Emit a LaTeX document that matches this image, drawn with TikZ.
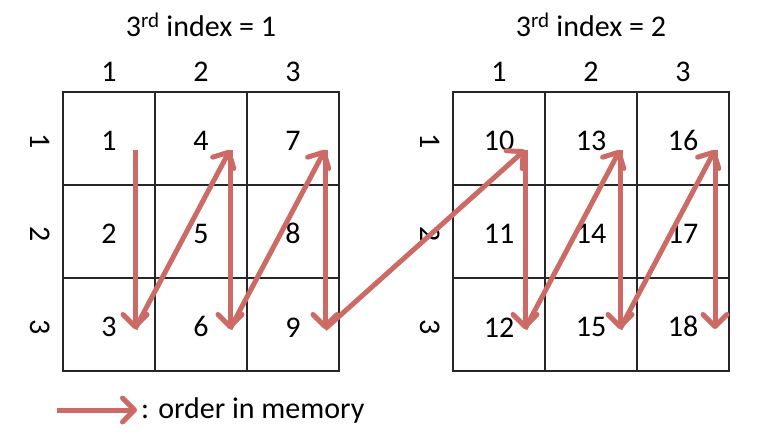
\documentclass[tikz,border=0pt]{standalone}
\usepackage{fontspec}
\setmainfont{Carlito}
\usetikzlibrary{arrows.meta}
\usetikzlibrary{calc}
\usetikzlibrary{positioning}
\definecolor{memred}{RGB}{204,106,102}
\tikzset{
  cell/.style={draw=black!85, line width=1.2pt, minimum width=92pt, minimum height=93pt, inner sep=0pt, text height=25pt, font=\fontsize{30}{36}\selectfont},
  idx/.style={inner sep=0pt, font=\fontsize{30}{36}\selectfont},
  heading/.style={inner sep=0pt, font=\fontsize{30}{36}\selectfont},
  memarrow/.style={draw=memred, line width=5pt, -{Straight Barb[length=12pt,width=24pt,round]}}
}
\begin{document}
\begin{tikzpicture}[x=1pt, y=-1pt]
\useasboundingbox (0,0) rectangle (760,438);

\foreach \g in {0,1}
  \foreach \j in {0,1,2}
    \foreach \i in {0,1,2} {
      \pgfmathtruncatemacro{\n}{9*\g+3*\j+\i+1}
      \node[cell] (c\n) at ({109+390*\g+92*\j},{138.5+93*\i}) {\n};
    }

\foreach \g in {0,1}
  \foreach \j in {0,1,2} {
    \pgfmathtruncatemacro{\n}{9*\g+3*\j+1}
    \pgfmathtruncatemacro{\m}{\j+1}
    \node[idx] (col\g\m) at ($(c\n.north)+(0,-20)$) {\m};
  }

\foreach \g in {0,1}
  \foreach \i in {0,1,2} {
    \pgfmathtruncatemacro{\n}{9*\g+\i+1}
    \pgfmathtruncatemacro{\m}{\i+1}
    \node[idx, rotate=-90] (row\g\m) at ($(c\n.west)+(-22,3)$) {\m};
  }

\node[heading] (title0) at ($(c4.north)+(0,-67)$) {3\textsuperscript{rd} index = 1};
\node[heading] (title1) at ($(c13.north)+(0,-67)$) {3\textsuperscript{rd} index = 2};

\foreach \k in {1,...,6} {
  \pgfmathtruncatemacro{\a}{3*\k-2}
  \pgfmathtruncatemacro{\b}{3*\k}
  \pgfmathsetmacro{\dx}{26+3*mod(\k-1,3)}
  \coordinate (top\k) at ($(c\a)+(\dx,11.5)$);
  \coordinate (bot\k) at ($(c\b)+(\dx,4.5)$);
}

\foreach \k in {1,...,6}
  \draw[memarrow] (top\k) -- (bot\k);
\foreach \k [count=\p] in {2,...,6}
  \draw[memarrow] (bot\p) -- (top\k);

\coordinate (legA) at (57,410);
\coordinate (legB) at (137,410);
\draw[memarrow] (legA) -- (legB);
\node[heading, anchor=west] (legtext) at ($(legB)+(4,0)$) {: order in memory};
\end{tikzpicture}
\end{document}
